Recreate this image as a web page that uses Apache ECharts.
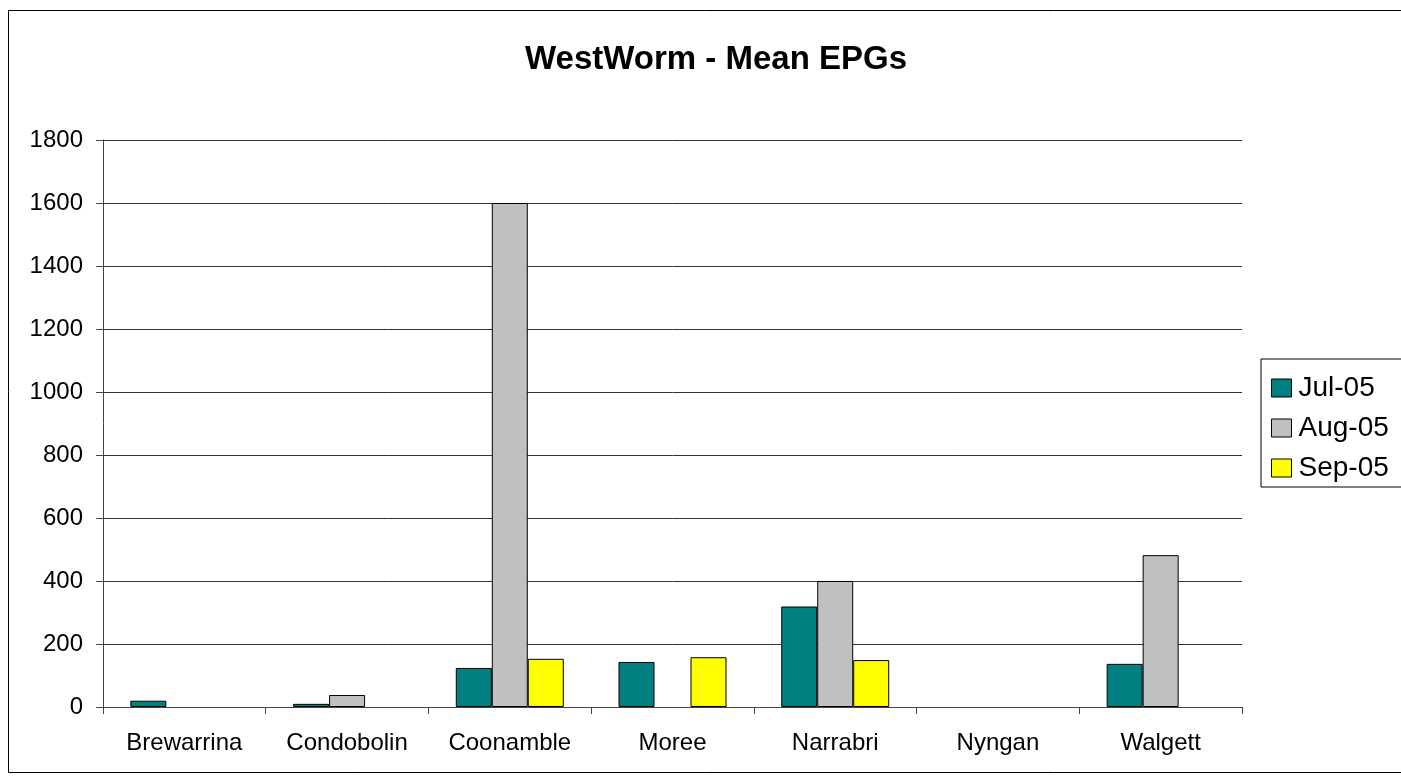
<!DOCTYPE html>
<html>
<head>
<meta charset="utf-8">
<script src="https://cdn.jsdelivr.net/npm/echarts@6/dist/echarts.min.js"></script>
<style>
html,body{margin:0;padding:0;background:#fff;overflow:hidden;}
#chart{width:1401px;height:776px;}
</style>
</head>
<body>
<div id="chart"></div>
<script>
const categories = ['Brewarrina','Condobolin','Coonamble','Moree','Narrabri','Nyngan','Walgett'];
const jul05 = [20, 10, 124, 143, 319, null, 137];
const aug05 = [null, 38, 1600, null, 400, null, 482];
const sep05 = [null, null, 153, 158, 149, null, null];
const yTicks = {min: 0, max: 1800, interval: 200};

const chart = echarts.init(document.getElementById('chart'));
const font = 'Liberation Sans, Arial, sans-serif';
const barStyle = (c) => ({color: c, borderColor: '#000', borderWidth: 1});
chart.setOption({
  animation: false,
  backgroundColor: '#fff',
  textStyle: {fontFamily: font},
  title: {
    text: 'WestWorm - Mean EPGs',
    left: 711, top: 38, textAlign: 'center',
    textStyle: {fontFamily: font, fontSize: 33, fontWeight: 'bold', color: '#000'}
  },
  graphic: [{
    type: 'rect', shape: {x: 8.5, y: 10.5, width: 1420, height: 762},
    style: {fill: null, stroke: '#000', lineWidth: 1}, silent: true, z: -1
  }],
  legend: {
    orient: 'vertical',
    left: 1261, top: 359,
    padding: [15, 30, 5, 10],
    itemGap: 12,
    itemWidth: 20, itemHeight: 18,
    icon: 'rect',
    borderColor: '#000', borderWidth: 1,
    backgroundColor: '#fff',
    textStyle: {fontFamily: font, fontSize: 28, color: '#000', padding: [0, 0, 0, 2], lineHeight: 28},
    itemStyle: {borderColor: '#000', borderWidth: 1},
    data: ['Jul-05', 'Aug-05', 'Sep-05']
  },
  grid: {left: 103, right: 159, top: 140, bottom: 69, containLabel: false},
  xAxis: {
    type: 'category',
    data: categories,
    axisLine: {lineStyle: {color: '#444', width: 1}},
    axisTick: {show: true, length: 7, lineStyle: {color: '#444'}, alignWithLabel: false},
    axisLabel: {fontFamily: font, fontSize: 24, color: '#000', margin: 24}
  },
  yAxis: {
    type: 'value',
    min: yTicks.min, max: yTicks.max, interval: yTicks.interval,
    axisLine: {show: true, lineStyle: {color: '#444', width: 1}},
    axisTick: {show: true, length: 7, lineStyle: {color: '#444'}},
    axisLabel: {fontFamily: font, fontSize: 24, color: '#000', margin: 20, formatter: (v) => String(v)},
    splitLine: {lineStyle: {color: '#333', width: 1}}
  },
  series: [
    {name: 'Jul-05', type: 'bar', data: jul05, barWidth: 36, barGap: '0%', itemStyle: barStyle('#008080')},
    {name: 'Aug-05', type: 'bar', data: aug05, barWidth: 36, barGap: '0%', itemStyle: barStyle('#C0C0C0')},
    {name: 'Sep-05', type: 'bar', data: sep05, barWidth: 36, barGap: '0%', itemStyle: barStyle('#FFFF00')}
  ]
});
</script>
</body>
</html>
